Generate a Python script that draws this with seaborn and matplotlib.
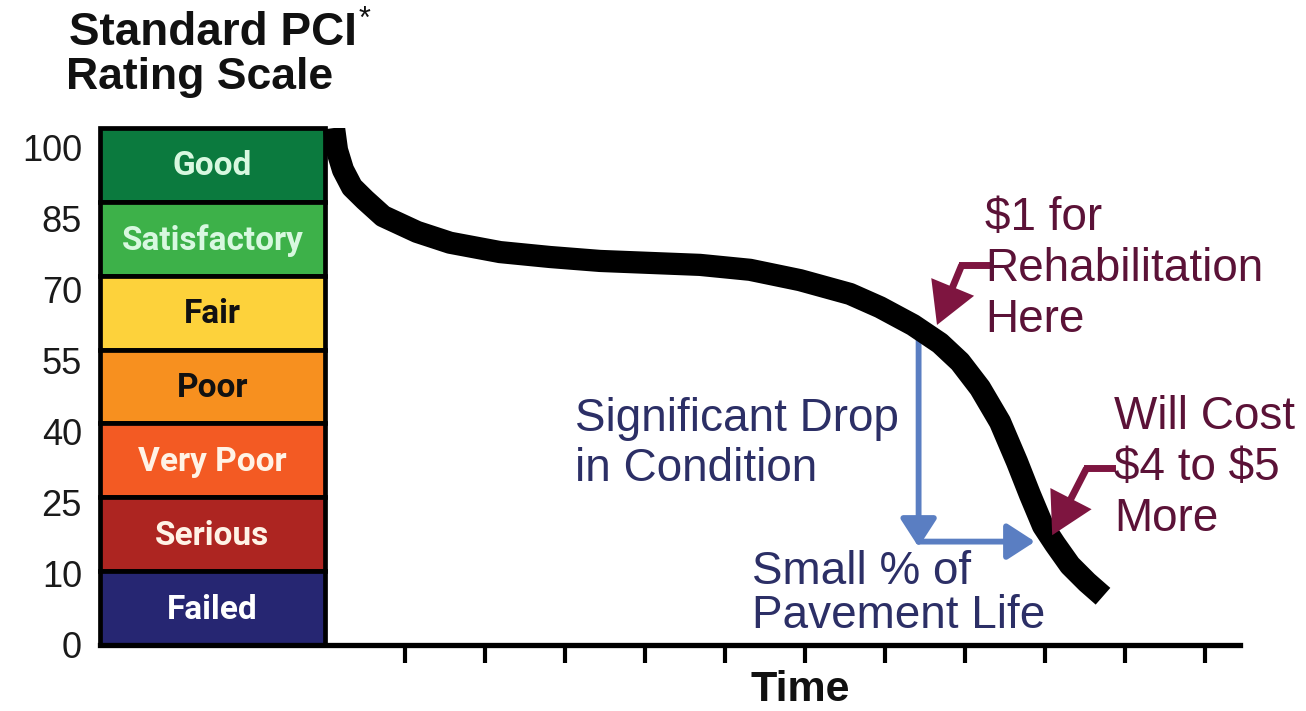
import numpy as np
import pandas as pd
import matplotlib
matplotlib.use("Agg")
import matplotlib.pyplot as plt
from matplotlib import font_manager
from matplotlib.patches import FancyArrowPatch
import seaborn as sns

# ---------------- data ----------------
ratings = ["Good", "Satisfactory", "Fair", "Poor", "Very Poor", "Serious", "Failed"]
rating_upper = [100, 85, 70, 55, 40, 25, 10]
rating_lower = [85, 70, 55, 40, 25, 10, 0]
rating_colors = ["#0b7a3e", "#3db149", "#fdd23b", "#f7901f", "#f35a23", "#ad2521", "#262672"]
rating_text_colors = ["#d8f8e0", "#d8f8e0", "#111111", "#111111", "#fff3e6", "#fff3e6", "#ffffff"]

scale_values = [0, 10, 25, 40, 55, 70, 85, 100]
scale_labels = ["100", "85", "70", "55", "40", "25", "10", "0"]

curve_time = [0.1125, 0.15, 0.225, 0.3375, 0.5, 0.725, 1.15, 1.5625, 2.1875,
              2.8125, 3.4375, 4.0625, 4.6875, 5.3125, 5.9375, 6.5625, 6.9375, 7.35,
              7.6875, 7.9375, 8.1875, 8.4375, 8.65, 8.8125, 8.975, 9.125, 9.3125,
              9.525, 9.725]
curve_pci = [100, 95.5, 91.5, 88.0, 85.4, 82.1, 78.9, 76.7, 74.8,
             73.8, 73.0, 72.6, 72.2, 71.2, 69.1, 66.3, 63.6, 60.0,
             56.3, 52.5, 47.2, 40.3, 32.2, 25.5, 19.2, 15.5, 11.2,
             8.5, 6.6]

time_ticks = list(range(1, 12))

# annotation anchors (time, PCI)
rehab_point = (7.65, 60.0)
rehab_elbow = (7.96, 72.2)
rehab_start = (8.275, 72.2)
cost_point = (9.09, 17.3)
cost_elbow = (9.52, 30.9)
cost_start = (9.84, 30.9)
drop_top = (7.42, 59.0)
drop_bottom = (7.42, 14.9)
life_end = (8.875, 16.0)
life_y = 16.0


def to_band(pci):
    return np.interp(pci, scale_values, np.arange(len(scale_values)))


# ---------------- style ----------------
sns.set_theme(style="white")
plt.rcParams["font.family"] = ["Liberation Sans", "DejaVu Sans"]

names = {f.name for f in font_manager.fontManager.ttflist}
if "Liberation Sans Narrow" in names:
    band_family, band_size = ["Liberation Sans Narrow", "DejaVu Sans"], 27
else:
    band_family, band_size = ["Roboto", "DejaVu Sans"], 24

W, H = 1306, 711
fig = plt.figure(figsize=(W / 100, H / 100), dpi=100)
ax = fig.add_axes([100 / W, 1 - 645 / H, 1140 / W, 517 / H])


def fpx(x, y):
    return x / W, 1 - y / H


x_left, x_right = -2.8125, 11.4375
ax.set_xlim(x_left, x_right)
ax.set_ylim(0, 7)

# rating scale boxes
box_w = -x_left
for i, name in enumerate(ratings):
    b0 = to_band(rating_lower[i])
    b1 = to_band(rating_upper[i])
    ax.bar(x_left + box_w / 2, b1 - b0, bottom=b0, width=box_w,
           color=rating_colors[i], edgecolor="black", linewidth=3.4,
           clip_on=False, zorder=2)
    ax.text(x_left + box_w / 2, (b0 + b1) / 2 - 0.02, name, ha="center", va="center",
            color=rating_text_colors[i], fontsize=band_size, fontweight="bold",
            family=band_family, zorder=3)

# deterioration curve
df = pd.DataFrame({"time": curve_time, "pci": curve_pci})
df["band"] = to_band(df["pci"])
sns.lineplot(data=df, x="time", y="band", color="black",
             linewidth=16, estimator=None, sort=False, ax=ax, zorder=6,
             solid_capstyle="butt", solid_joinstyle="round")
ax.set_xlabel("")
ax.set_ylabel("")

# axes styling
sns.despine(ax=ax, left=True)
ax.spines["bottom"].set_linewidth(3.8)
ax.spines["bottom"].set_color("black")
ax.set_xticks(time_ticks)
ax.set_xticklabels([])
ax.tick_params(axis="x", length=13, width=3, direction="out", color="black", bottom=True)
ax.set_yticks(np.linspace(6.73, 0.0, len(scale_labels)))
ax.set_yticklabels(scale_labels, fontsize=26, color="#1a1a1a")
ax.tick_params(axis="y", length=0, pad=13)
ax.grid(False)

# blue arrows
blue = "#5a7ec2"
ax.add_patch(FancyArrowPatch((drop_top[0], to_band(drop_top[1])),
                             (drop_bottom[0], to_band(drop_bottom[1])),
                             arrowstyle="-|>,head_length=0.85,head_width=0.55",
                             mutation_scale=20, color=blue, linewidth=4.2,
                             shrinkA=0, shrinkB=0, zorder=4))
ax.add_patch(FancyArrowPatch((drop_top[0], to_band(life_y)),
                             (life_end[0], to_band(life_y)),
                             arrowstyle="-|>,head_length=0.85,head_width=0.55",
                             mutation_scale=20, color=blue, linewidth=4.2,
                             shrinkA=0, shrinkB=0, zorder=4))

# maroon arrows
maroon = "#7e1540"
for start, elbow, tip in [(rehab_start, rehab_elbow, rehab_point),
                          (cost_start, cost_elbow, cost_point)]:
    ax.plot([start[0], elbow[0]], [to_band(start[1]), to_band(elbow[1])],
            color=maroon, linewidth=5, solid_capstyle="projecting", zorder=7)
    ax.add_patch(FancyArrowPatch((elbow[0], to_band(elbow[1])),
                                 (tip[0], to_band(tip[1])),
                                 arrowstyle="-|>,head_length=1.1,head_width=0.62",
                                 mutation_scale=20, color=maroon, linewidth=5,
                                 shrinkA=0, shrinkB=0, zorder=7,
                                 joinstyle="miter", capstyle="butt"))

# texts
txt_maroon = "#5b1237"
txt_navy = "#2c2f66"
fs = 33
fig.text(*fpx(985, 269), "$1 for\nRehabilitation\nHere", ha="left", va="center",
         fontsize=fs, color=txt_maroon, linespacing=1.2)
fig.text(*fpx(1114, 468), "Will Cost\n\\$4 to \\$5\nMore", ha="left", va="center",
         fontsize=fs, color=txt_maroon, linespacing=1.2)
fig.text(*fpx(575, 444), "Significant Drop\nin Condition", ha="left", va="center",
         fontsize=fs, color=txt_navy, linespacing=1.2)
fig.text(*fpx(752, 594), "Small % of\nPavement Life", ha="left", va="center",
         fontsize=fs, color=txt_navy, linespacing=1.0)

# title
fig.text(*fpx(357, 33), "Standard PCI", ha="right", va="center",
         fontsize=33, fontweight="bold", color="#111111")
fig.text(*fpx(359, 20), "*", ha="left", va="center",
         fontsize=22, color="#111111")
fig.text(*fpx(200, 78), "Rating Scale", ha="center", va="center",
         fontsize=32, fontweight="bold", color="#111111")

# x label
fig.text(*fpx(800, 690), "Time", ha="center", va="center",
         fontsize=31, fontweight="bold", color="#111111")

fig.savefig("out.png", dpi=100, facecolor="white")
